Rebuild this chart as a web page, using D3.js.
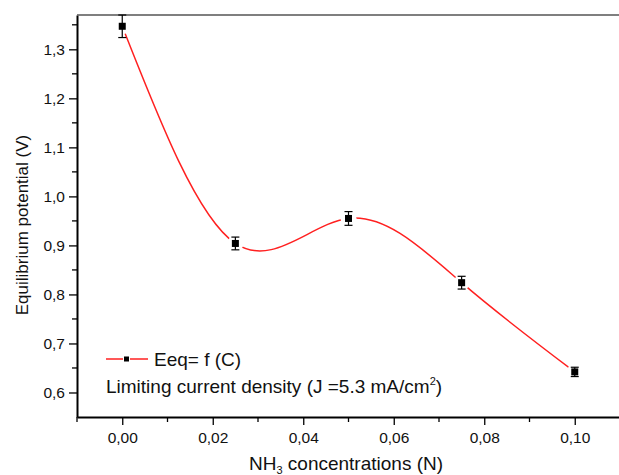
<!DOCTYPE html>
<html>
<head>
<meta charset="utf-8">
<script src="https://cdn.jsdelivr.net/npm/d3@7"></script>
<style>
  body { margin: 0; background: #fff; }
  text { font-family: "Liberation Sans", Arial, sans-serif; fill: #111; }
</style>
</head>
<body>
<div id="chart"></div>
<script>
// values
let concentrations = [0, 0.025, 0.05, 0.075, 0.1];
let potentials = [1.347, 0.904, 0.955, 0.824, 0.642];
let errors = [0.023, 0.013, 0.014, 0.013, 0.0095];
let xTicks = [0, 0.02, 0.04, 0.06, 0.08, 0.10];
let yTicks = [0.6, 0.7, 0.8, 0.9, 1.0, 1.1, 1.2, 1.3];
let legendLabel = "Eeq= f (C)";

let data = concentrations.map((c, i) => ({c: c, e: potentials[i], err: errors[i]}));

let width = 619, height = 475;
let plotLeft = 77, plotTop = 15, plotBottom = 417, plotRight = 620;

let svg = d3.select("#chart").append("svg")
    .attr("width", width)
    .attr("height", height);

let x = d3.scaleLinear().domain([-0.01, 0.11]).range([plotLeft, plotRight]);
let y = d3.scaleLinear().domain([0.55, 1.37]).range([plotBottom, plotTop]);

let comma = f => d => d3.format(f)(d).replace(".", ",");

// minor ticks
let xMinor = [-0.01, 0.01, 0.03, 0.05, 0.07, 0.09, 0.11];
let yMinor = [0.65, 0.75, 0.85, 0.95, 1.05, 1.15, 1.25, 1.35];

svg.append("g").selectAll("line").data(xMinor).enter().append("line")
    .attr("x1", d => x(d)).attr("x2", d => x(d))
    .attr("y1", plotBottom).attr("y2", plotBottom + 5)
    .attr("stroke", "#000").attr("stroke-width", 1.3);

svg.append("g").selectAll("line").data(yMinor).enter().append("line")
    .attr("x1", plotLeft - 5).attr("x2", plotLeft)
    .attr("y1", d => y(d)).attr("y2", d => y(d))
    .attr("stroke", "#000").attr("stroke-width", 1.3);

let xAxis = d3.axisBottom(x).tickValues(xTicks).tickFormat(comma(".2f"))
    .tickSize(8).tickSizeOuter(0);
let yAxis = d3.axisLeft(y).tickValues(yTicks).tickFormat(comma(".1f"))
    .tickSize(8).tickSizeOuter(0);

let gx = svg.append("g")
    .attr("transform", "translate(0," + plotBottom + ")")
    .call(xAxis);
let gy = svg.append("g")
    .attr("transform", "translate(" + plotLeft + ",0)")
    .call(yAxis);

[gx, gy].forEach(g => {
    g.select(".domain").attr("stroke", "#000").attr("stroke-width", 2);
    g.selectAll(".tick line").attr("stroke", "#000").attr("stroke-width", 1.3);
    g.selectAll(".tick text")
        .attr("font-size", 15.5)
        .attr("font-family", "Liberation Sans, Arial, sans-serif")
        .attr("fill", "#111");
});
gx.selectAll(".tick text").attr("dy", "0.95em");
gy.selectAll(".tick text").attr("x", -12);

// top frame line
svg.append("line")
    .attr("x1", plotLeft).attr("x2", width)
    .attr("y1", plotTop).attr("y2", plotTop)
    .attr("stroke", "#555").attr("stroke-width", 1.5);

// spline curve
let line = d3.line()
    .x(d => x(d.c))
    .y(d => y(d.e))
    .curve(d3.curveNatural);

svg.append("path")
    .datum(data)
    .attr("d", line)
    .attr("fill", "none")
    .attr("stroke", "#ff2020")
    .attr("stroke-width", 1.5);

// gaps around markers
svg.append("g").selectAll("circle").data(data).enter().append("circle")
    .attr("cx", d => x(d.c)).attr("cy", d => y(d.e))
    .attr("r", 8).attr("fill", "#fff");

// error bars
let eb = svg.append("g").selectAll("g").data(data).enter().append("g")
    .attr("stroke", "#000").attr("stroke-width", 1.2);
eb.append("line")
    .attr("x1", d => x(d.c)).attr("x2", d => x(d.c))
    .attr("y1", d => y(d.e + d.err)).attr("y2", d => y(d.e - d.err));
eb.append("line")
    .attr("x1", d => x(d.c) - 4).attr("x2", d => x(d.c) + 4)
    .attr("y1", d => y(d.e + d.err)).attr("y2", d => y(d.e + d.err));
eb.append("line")
    .attr("x1", d => x(d.c) - 4).attr("x2", d => x(d.c) + 4)
    .attr("y1", d => y(d.e - d.err)).attr("y2", d => y(d.e - d.err));

svg.append("g").selectAll("rect").data(data).enter().append("rect")
    .attr("x", d => x(d.c) - 3.5).attr("y", d => y(d.e) - 3.5)
    .attr("width", 7).attr("height", 7)
    .attr("fill", "#000");

// legend
let ly = 359;
svg.append("line")
    .attr("x1", 106).attr("x2", 148).attr("y1", ly).attr("y2", ly)
    .attr("stroke", "#ff2020").attr("stroke-width", 1.5);
svg.append("rect")
    .attr("x", 123).attr("y", ly - 3.5).attr("width", 7).attr("height", 7)
    .attr("fill", "#fff");
svg.append("rect")
    .attr("x", 124).attr("y", ly - 2.5).attr("width", 5).attr("height", 5)
    .attr("fill", "#000");
svg.append("text")
    .attr("x", 154).attr("y", ly + 7)
    .attr("font-size", 19)
    .text(legendLabel);

let note = svg.append("text")
    .attr("x", 106).attr("y", 393)
    .attr("font-size", 19);
note.append("tspan").text("Limiting current density (J =5.3 mA/cm");
note.append("tspan").attr("font-size", 11).attr("dy", -8).text("2");
note.append("tspan").attr("dy", 8).text(")");

// axis titles
let xt = svg.append("text")
    .attr("x", 346).attr("y", 470)
    .attr("text-anchor", "middle")
    .attr("font-size", 19);
xt.append("tspan").text("NH");
xt.append("tspan").attr("font-size", 11).attr("dy", 4).text("3");
xt.append("tspan").attr("dy", -4).text(" concentrations (N)");

svg.append("text")
    .attr("transform", "translate(28,225) rotate(-90)")
    .attr("text-anchor", "middle")
    .attr("font-size", 17)
    .text("Equilibrium potential (V)");
</script>
</body>
</html>
